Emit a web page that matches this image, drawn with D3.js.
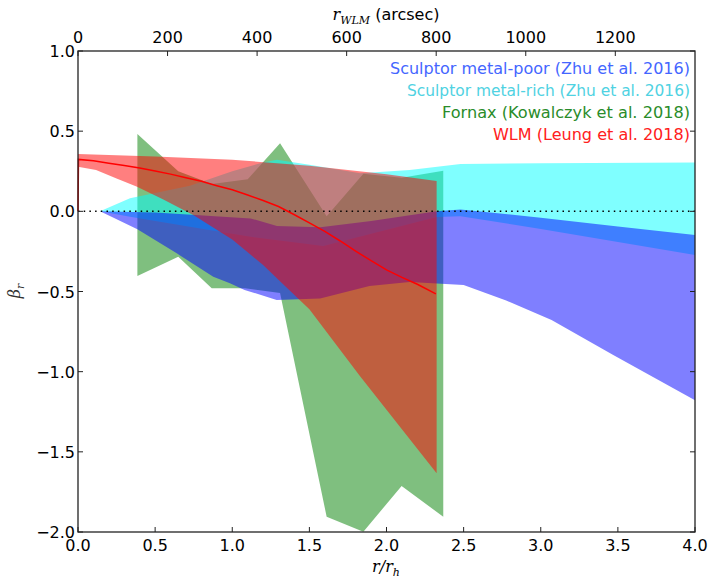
<!DOCTYPE html>
<html><head><meta charset="utf-8">
<script src="https://cdn.jsdelivr.net/npm/d3@7"></script>
<style>body{margin:0;background:#fff}svg{display:block}</style>
</head><body>
<svg id="chart" width="721" height="576"></svg>
<script>
// ---------- data ----------
const xTicks = [0, 0.5, 1, 1.5, 2, 2.5, 3, 3.5, 4];
const yTicks = [-2, -1.5, -1, -0.5, 0, 0.5, 1];
const topTicks = [0, 200, 400, 600, 800, 1000, 1200];

const greenUpper = [[0.385,0.482],[0.65,0.25],[0.867,0.17],[1.1,0.2],[1.31,0.424],[1.612,-0.03],[1.85,0.235],[2.098,0.21],[2.368,0.253]];
const greenLower = [[0.385,-0.404],[0.65,-0.283],[0.867,-0.48],[1.083,-0.48],[1.31,-0.51],[1.612,-1.905],[1.85,-1.998],[2.098,-1.713],[2.368,-1.905]];

const cyanUpper = [[0.143,0],[0.337,0.081],[0.726,0.16],[1.0,0.25],[1.2,0.305],[1.29,0.322],[1.5,0.29],[1.83,0.237],[2.15,0.258],[2.48,0.295],[3.0,0.3],[4.0,0.305]];
const cyanLower = [[0.143,0],[0.337,-0.034],[0.92,-0.127],[1.12,-0.159],[1.59,-0.216],[2.325,-0.035],[2.48,-0.03],[3.0,-0.11],[4.0,-0.273]];

const blueUpper = [[0.143,0],[0.5,-0.008],[0.71,-0.02],[1.12,-0.044],[1.29,-0.092],[1.57,-0.1],[1.9,-0.06],[2.325,0.0],[2.48,0.012],[3.0,-0.04],[3.5,-0.095],[4.0,-0.148]];
const blueLower = [[0.143,0],[0.385,-0.112],[0.64,-0.262],[0.877,-0.408],[0.985,-0.449],[1.08,-0.49],[1.288,-0.553],[1.57,-0.543],[1.89,-0.466],[2.15,-0.44],[2.5,-0.46],[2.78,-0.558],[3.07,-0.678],[3.47,-0.896],[4.0,-1.178]];

const redUpper = [[0,0.357],[0.5,0.342],[1.0,0.322],[1.5,0.285],[2.0,0.232],[2.325,0.189]];
const redLower = [[0,0.278],[0.117,0.258],[0.25,0.205],[0.383,0.153],[0.55,0.075],[0.75,-0.025],[1.0,-0.175],[1.2,-0.335],[1.33,-0.455],[1.5,-0.61],[1.83,-1.03],[2.325,-1.634]];

const redLine = [[0,0],[0.003,0.324],[0.1,0.315],[0.2,0.3],[0.3,0.286],[0.4,0.27],[0.5,0.252],[0.6,0.232],[0.7,0.21],[0.8,0.187],[0.9,0.16],[1.0,0.135],[1.1,0.102],[1.2,0.068],[1.3,0.03],[1.4,-0.02],[1.5,-0.072],[1.6,-0.125],[1.7,-0.185],[1.8,-0.248],[1.9,-0.308],[2.0,-0.365],[2.1,-0.412],[2.2,-0.455],[2.32,-0.515]];

const legendLabels = ["Sculptor metal-poor (Zhu et al. 2016)", "Sculptor metal-rich (Zhu et al. 2016)", "Fornax (Kowalczyk et al. 2018)", "WLM (Leung et al. 2018)"];
const legendColors = ["#4466ff", "#4fd2e2", "#2a8c2a", "#ff2020"];
const legendWidths = [300, 283, 248, 197];

// ---------- layout ----------
const L = 78, R = 695, T = 51, B = 532;
const svg = d3.select("#chart");
const x = d3.scaleLinear().domain([0, 4]).range([L, R]);
const y = d3.scaleLinear().domain([-2, 1]).range([B, T]);
const xTop = d3.scaleLinear().domain([0, 1378]).range([L, R]);

const clip = svg.append("defs").append("clipPath").attr("id", "clip")
  .append("rect").attr("x", L).attr("y", T).attr("width", R - L).attr("height", B - T);

const plot = svg.append("g").attr("clip-path", "url(#clip)");
const line = d3.line().x(d => x(d[0])).y(d => y(d[1]));
function band(up, lo, color) {
  const pts = up.concat(lo.slice().reverse());
  plot.append("path").attr("d", line(pts) + "Z")
    .attr("fill", color).attr("fill-opacity", 0.5).attr("stroke", "none");
}
band(greenUpper, greenLower, "#008000");
band(cyanUpper, cyanLower, "#00ffff");
band(blueUpper, blueLower, "#0000ff");
band(redUpper, redLower, "#ff0000");

// zero line
plot.append("path").attr("d", line([[0,0],[4,0]]))
  .attr("stroke", "#000").attr("stroke-width", 1.5).attr("stroke-dasharray", "1.5,4.2").attr("fill", "none");

// red curve
svg.append("path").attr("d", line(redLine)).attr("fill", "none")
  .attr("stroke", "#ff0000").attr("stroke-width", 1.5);

// ---------- axes ----------
const axisG = svg.append("g");
axisG.append("rect").attr("x", L).attr("y", T).attr("width", R - L).attr("height", B - T)
  .attr("fill", "none").attr("stroke", "#222").attr("stroke-width", 1.3);

const tickLen = 5;
const font = "DejaVu Sans, sans-serif";
// bottom ticks
xTicks.forEach(v => {
  axisG.append("line").attr("x1", x(v)).attr("x2", x(v)).attr("y1", B).attr("y2", B - tickLen).attr("stroke", "#222").attr("stroke-width", 1);
  axisG.append("text").attr("x", x(v)).attr("y", 551).attr("text-anchor", "middle")
    .attr("font-family", font).attr("font-size", 16).text(d3.format(".1f")(v));
});
// left/right ticks
yTicks.forEach(v => {
  axisG.append("line").attr("x1", L).attr("x2", L + tickLen).attr("y1", y(v)).attr("y2", y(v)).attr("stroke", "#222").attr("stroke-width", 1);
  axisG.append("line").attr("x1", R).attr("x2", R - tickLen).attr("y1", y(v)).attr("y2", y(v)).attr("stroke", "#222").attr("stroke-width", 1);
  axisG.append("text").attr("x", 75).attr("y", y(v) + 6).attr("text-anchor", "end")
    .attr("font-family", font).attr("font-size", 16).text(d3.format(".1f")(v).replace("-", "\u2212"));
});
// top ticks
topTicks.forEach(v => {
  axisG.append("line").attr("x1", xTop(v)).attr("x2", xTop(v)).attr("y1", T).attr("y2", T + tickLen).attr("stroke", "#222").attr("stroke-width", 1);
  axisG.append("text").attr("x", xTop(v)).attr("y", 43).attr("text-anchor", "middle")
    .attr("font-family", font).attr("font-size", 16).text(v);
});

// axis titles
const serif = "DejaVu Serif, serif";
const xl = svg.append("text").attr("x", 386).attr("y", 572).attr("text-anchor", "middle")
  .attr("font-family", serif).attr("font-style", "italic").attr("font-size", 16);
xl.append("tspan").text("r/r");
xl.append("tspan").attr("font-size", 11).attr("dy", 4).text("h");

const tl = svg.append("text").attr("x", 386).attr("y", 20).attr("text-anchor", "middle").attr("font-size", 16);
tl.append("tspan").attr("font-family", serif).attr("font-style", "italic").text("r");
tl.append("tspan").attr("font-family", serif).attr("font-style", "italic").attr("font-size", 11).attr("dy", 4).text("WLM");
tl.append("tspan").attr("font-family", font).attr("dy", -4).text(" (arcsec)");

const yl = svg.append("text").attr("transform", "translate(20,291) rotate(-90)").attr("text-anchor", "middle")
  .attr("font-family", serif).attr("font-style", "italic").attr("font-size", 16).attr("fill", "#333");
yl.append("tspan").text("\u03b2");
yl.append("tspan").attr("font-size", 11).attr("dy", 4).text("r");

// legend text
const legY = [74, 96, 118, 140];
legendLabels.forEach((t, i) => {
  svg.append("text").attr("x", 690).attr("y", legY[i]).attr("text-anchor", "end")
    .attr("font-family", font).attr("font-size", 16).attr("fill", legendColors[i])
    .attr("textLength", legendWidths[i]).attr("lengthAdjust", "spacingAndGlyphs").text(t);
});
</script>
</body></html>
